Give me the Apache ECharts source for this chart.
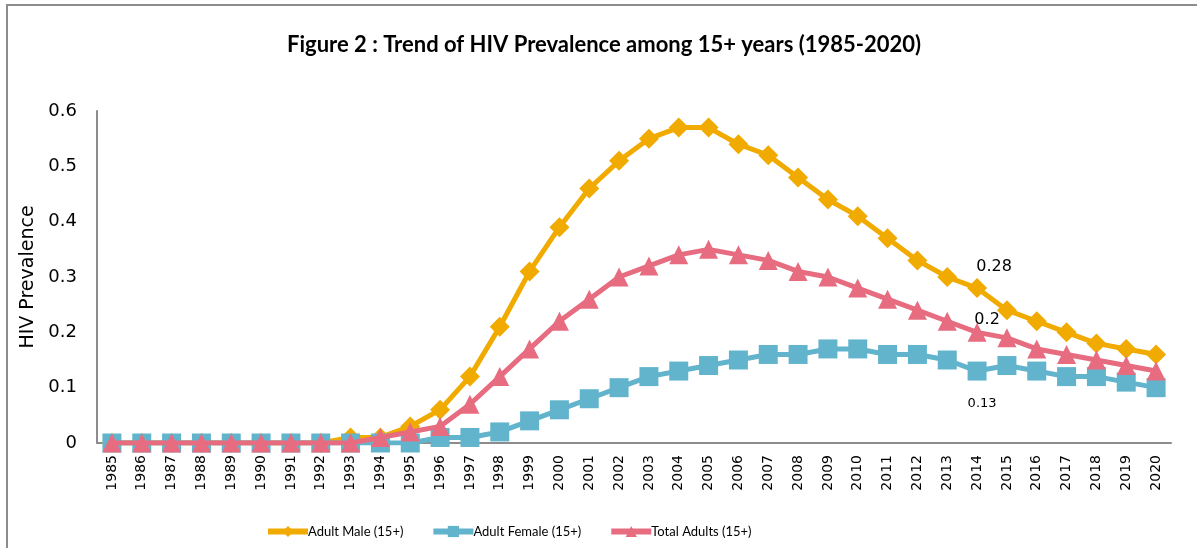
<!DOCTYPE html>
<html>
<head>
<meta charset="utf-8">
<script src="https://cdn.jsdelivr.net/npm/echarts@6/dist/echarts.min.js"></script>
<style>
  html, body { margin: 0; padding: 0; background: #fff; }
  #chart { width: 1197px; height: 548px; }
</style>
</head>
<body>
<div id="chart"></div>
<script>
// years on the x axis
const years = ['1985','1986','1987','1988','1989','1990','1991','1992','1993','1994','1995','1996',
  '1997','1998','1999','2000','2001','2002','2003','2004','2005','2006','2007','2008','2009','2010',
  '2011','2012','2013','2014','2015','2016','2017','2018','2019','2020'];

const adultMale = [0,0,0,0,0,0,0,0,0.01,0.01,0.03,0.06,0.12,0.21,0.31,0.39,0.46,0.51,0.55,0.57,0.57,
  0.54,0.52,0.48,0.44,0.41,0.37,0.33,0.30,0.28,0.24,0.22,0.20,0.18,0.17,0.16];
const adultFemale = [0,0,0,0,0,0,0,0,0,0,0,0.01,0.01,0.02,0.04,0.06,0.08,0.10,0.12,0.13,0.14,
  0.15,0.16,0.16,0.17,0.17,0.16,0.16,0.15,0.13,0.14,0.13,0.12,0.12,0.11,0.10];
const totalAdults = [0,0,0,0,0,0,0,0,0,0.01,0.02,0.03,0.07,0.12,0.17,0.22,0.26,0.30,0.32,0.34,0.35,
  0.34,0.33,0.31,0.30,0.28,0.26,0.24,0.22,0.20,0.19,0.17,0.16,0.15,0.14,0.13];

const labelYear = '2014';
const yTicks = [0, 0.1, 0.2, 0.3, 0.4, 0.5, 0.6];

const chart = echarts.init(document.getElementById('chart'));

// put a value label on the 2014 point only
function withLabel(values, label) {
  return values.map((v, i) => years[i] === labelYear ? { value: v, label: label } : v);
}

const option = {
  animation: false,
  graphic: [{
    type: 'rect',
    shape: { x: 7, y: 5, width: 1300, height: 600 },
    style: { fill: 'none', stroke: '#8c8c8c', lineWidth: 2 },
    silent: true
  }],
  title: {
    text: 'Figure 2 : Trend of HIV Prevalence among 15+ years (1985-2020)',
    left: 287,
    top: 34,
    padding: 0,
    textStyle: { fontFamily: 'Lato', fontWeight: 'bold', fontSize: 22, color: '#000' }
  },
  legend: {
    bottom: 10,
    left: 265,
    padding: 0,
    itemWidth: 40,
    itemHeight: 14,
    itemGap: 27,
    lineStyle: { width: 6 },
    textStyle: { fontFamily: 'Lato', fontSize: 13, color: '#000', padding: [0, 0, 0, -5] },
    data: ['Adult Male (15+)', 'Adult Female (15+)', 'Total Adults (15+)']
  },
  grid: { left: 97, right: 26, top: 111, bottom: 105 },
  xAxis: {
    type: 'category',
    data: years,
    boundaryGap: true,
    axisLine: { lineStyle: { color: '#8c8c8c', width: 2 } },
    axisTick: { show: false },
    axisLabel: {
      rotate: 90, interval: 0, margin: 12,
      fontFamily: 'DejaVu Sans', fontSize: 14, color: '#000'
    }
  },
  yAxis: {
    type: 'value',
    min: yTicks[0],
    max: yTicks[yTicks.length - 1],
    interval: 0.1,
    name: 'HIV Prevalence',
    nameLocation: 'middle',
    nameGap: 55,
    nameTextStyle: { fontFamily: 'DejaVu Sans', fontSize: 19, color: '#000' },
    axisLine: { show: true, lineStyle: { color: '#8c8c8c', width: 2 } },
    axisTick: { show: false },
    splitLine: { show: false },
    axisLabel: {
      margin: 20,
      fontFamily: 'DejaVu Sans', fontSize: 18, color: '#000',
      formatter: v => String(Math.round(v * 10) / 10)
    }
  },
  series: [
    {
      name: 'Adult Male (15+)',
      type: 'line',
      data: withLabel(adultMale, { show: true, position: 'top', offset: [17, 2], fontFamily: 'DejaVu Sans', fontSize: 16, color: '#000' }),
      symbol: 'diamond',
      symbolSize: 20,
      lineStyle: { width: 5, color: '#F0AA00' },
      itemStyle: { color: '#F0AA00' },
      z: 2
    },
    {
      name: 'Adult Female (15+)',
      type: 'line',
      data: withLabel(adultFemale, { show: true, position: 'bottom', offset: [5, 12], fontFamily: 'DejaVu Sans', fontSize: 13, color: '#000' }),
      symbol: 'rect',
      symbolSize: 19,
      lineStyle: { width: 5, color: '#62B4CC' },
      itemStyle: { color: '#62B4CC' },
      z: 3
    },
    {
      name: 'Total Adults (15+)',
      type: 'line',
      data: withLabel(totalAdults, { show: true, position: 'top', offset: [10, 10], fontFamily: 'DejaVu Sans', fontSize: 16, color: '#000' }),
      symbol: 'triangle',
      symbolSize: 19,
      lineStyle: { width: 5, color: '#E76C80' },
      itemStyle: { color: '#E76C80' },
      z: 4
    }
  ]
};

chart.setOption(option);
</script>
</body>
</html>
